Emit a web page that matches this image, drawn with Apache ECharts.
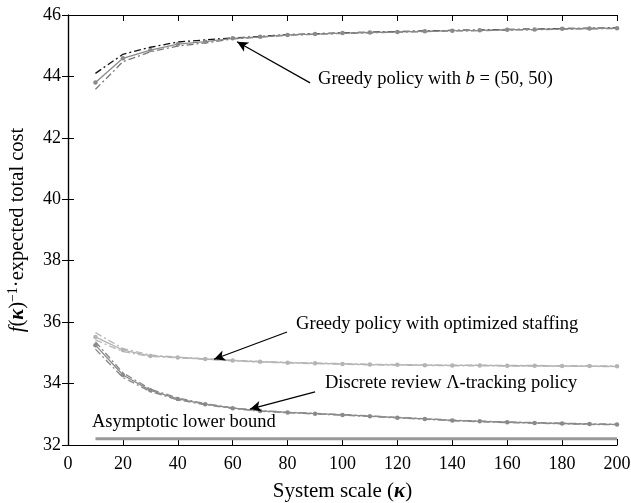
<!DOCTYPE html>
<html>
<head>
<meta charset="utf-8">
<script src="https://cdn.jsdelivr.net/npm/echarts@6/dist/echarts.min.js"></script>
<style>html,body{margin:0;padding:0;background:#fff}#c{width:631px;height:503px}</style>
</head>
<body>
<div id="c"></div>
<script>
// Data
const kappa = [10,20,30,40,50,60,70,80,90,100,110,120,130,140,150,160,170,180,190,200];
const greedyB = [43.8,44.59,44.86,45.05,45.13,45.24,45.29,45.35,45.38,45.41,45.43,45.45,45.47,45.49,45.5,45.52,45.53,45.55,45.56,45.57];
const greedyBUpper = [44.1,44.72,44.95,45.12,45.19,45.25,45.3,45.36,45.39,45.42,45.44,45.46,45.48,45.5,45.51,45.53,45.54,45.56,45.57,45.58];
const greedyBLower = [43.58,44.48,44.8,44.99,45.09,45.22,45.28,45.34,45.37,45.4,45.42,45.44,45.46,45.48,45.49,45.51,45.52,45.54,45.55,45.56];
const greedyOpt = [35.52,35.09,34.9,34.85,34.8,34.75,34.71,34.68,34.66,34.64,34.62,34.61,34.6,34.59,34.59,34.58,34.58,34.57,34.57,34.56];
const greedyOptUpper = [35.66,35.14,34.93,34.86,34.81,34.76,34.72,34.69,34.67,34.65,34.63,34.62,34.61,34.6,34.6,34.59,34.59,34.58,34.58,34.57];
const greedyOptLower = [35.42,35.04,34.88,34.84,34.79,34.74,34.7,34.67,34.65,34.63,34.61,34.6,34.59,34.58,34.58,34.57,34.57,34.56,34.56,34.55];
const tracking = [35.25,34.28,33.78,33.5,33.33,33.2,33.11,33.06,33.02,32.98,32.94,32.89,32.85,32.8,32.77,32.74,32.72,32.7,32.68,32.67];
const trackingUpper = [35.36,34.35,33.82,33.53,33.35,33.21,33.12,33.07,33.03,32.99,32.95,32.9,32.86,32.81,32.78,32.75,32.73,32.71,32.69,32.68];
const trackingLower = [35.12,34.2,33.74,33.47,33.31,33.19,33.1,33.05,33.01,32.97,32.93,32.88,32.84,32.79,32.76,32.73,32.71,32.69,32.67,32.66];
const lowerBoundX = [10,200];
const lowerBound = [32.2,32.2];
const yTicks = [32,34,36,38,40,42,44,46];
const xTicks = [0,20,40,60,80,100,120,140,160,180,200];

// Annotations: [text, textX, textY, arrowFromX, arrowFromY, arrowToX, arrowToY]
const notes = [
  ['Greedy policy with {i|b} = (50, 50)', 91.1, 43.92, 88.2, 43.79, 61.6, 45.13],
  ['Greedy policy with optimized staffing', 83.1, 35.93, 79.8, 35.68, 53.2, 34.79],
  ['Discrete review Λ-tracking policy', 93.6, 34.01, 90, 33.73, 66.3, 33.17],
  ['Asymptotic lower bound', 8.7, 32.74, null, null, null, null]
];

const FONT = '"Liberation Serif", "Times New Roman", serif';
const pair = (xs, ys) => xs.map((x, i) => [x, ys[i]]);
const DASHDOT = [7, 3, 2, 3];
const NOTE_SIZE = 18.5;

function lineSeries(ys, color, type, dots) {
  return {
    type: 'line', data: pair(kappa, ys), silent: true, animation: false,
    symbol: dots ? 'circle' : 'none', symbolSize: 4.5, showSymbol: !!dots,
    itemStyle: { color: color },
    lineStyle: { color: color, width: 1.3, type: type }
  };
}

const series = [
  lineSeries(greedyBUpper, '#111', DASHDOT, false),
  lineSeries(greedyBLower, '#777', DASHDOT, false),
  lineSeries(greedyB, '#8a8a8a', 'solid', true),
  lineSeries(greedyOptUpper, '#b8b8b8', DASHDOT, false),
  lineSeries(greedyOptLower, '#b8b8b8', DASHDOT, false),
  lineSeries(greedyOpt, '#b4b4b4', 'solid', true),
  lineSeries(trackingUpper, '#888', DASHDOT, false),
  lineSeries(trackingLower, '#888', DASHDOT, false),
  lineSeries(tracking, '#8a8a8a', 'solid', true),
  {
    type: 'line', data: pair(lowerBoundX, lowerBound), symbol: 'none', silent: true, animation: false,
    lineStyle: { color: '#999', width: 3 }
  },
  {
    type: 'line', data: [], silent: true, animation: false,
    markLine: {
      silent: true, animation: false, symbol: ['none', 'arrow'], symbolSize: [8, 11],
      label: { show: false },
      lineStyle: { color: '#000', width: 1.2, type: 'solid' },
      data: notes.filter(n => n[3] !== null).map(n => [{ coord: [n[3], n[4]] }, { coord: [n[5], n[6]] }])
    },
    markPoint: {
      silent: true, animation: false, symbol: 'circle', symbolSize: 0,
      data: notes.map(n => ({
        coord: [n[1], n[2]],
        label: {
          show: true, position: 'right', distance: 0, formatter: n[0],
          color: '#000', fontFamily: FONT, fontSize: NOTE_SIZE,
          rich: { i: { fontStyle: 'italic', fontFamily: FONT, fontSize: NOTE_SIZE, color: '#000' } }
        }
      }))
    }
  }
];

const axisCommon = {
  axisLine: { show: true, lineStyle: { color: '#000', width: 1.2 } },
  axisTick: { show: true, inside: true, length: 6, lineStyle: { color: '#000', width: 1 } },
  splitLine: { show: false }
};

const chart = echarts.init(document.getElementById('c'), null, { renderer: 'canvas' });
chart.setOption({
  backgroundColor: '#fff',
  animation: false,
  grid: { left: 68, right: 14, top: 15, bottom: 58, containLabel: false, outerBoundsMode: 'none' },
  xAxis: [
    Object.assign({}, axisCommon, {
      type: 'value', min: xTicks[0], max: xTicks[xTicks.length - 1], interval: 20, position: 'bottom',
      axisLabel: { color: '#000', fontFamily: FONT, fontSize: 18, margin: 10 },
      name: 'System scale ({k|κ})', nameLocation: 'middle', nameGap: 36,
      nameTextStyle: { color: '#000', fontFamily: FONT, fontSize: 21,
        rich: { k: { fontStyle: 'italic', fontWeight: 'bold', fontFamily: FONT, fontSize: 21 } } }
    }),
    Object.assign({}, axisCommon, {
      type: 'value', min: xTicks[0], max: xTicks[xTicks.length - 1], interval: 20, position: 'top',
      axisLabel: { show: false }
    })
  ],
  yAxis: [
    Object.assign({}, axisCommon, {
      type: 'value', min: yTicks[0], max: yTicks[yTicks.length - 1], interval: 2, position: 'left',
      axisLabel: { color: '#000', fontFamily: FONT, fontSize: 18, margin: 7 },
      name: '{i|f}({k|κ}){s|−1}·expected total cost', nameLocation: 'middle', nameGap: 39, nameRotate: 90,
      nameTextStyle: { color: '#000', fontFamily: FONT, fontSize: 20.5,
        rich: {
          i: { fontStyle: 'italic', fontFamily: FONT, fontSize: 20.5 },
          k: { fontStyle: 'italic', fontWeight: 'bold', fontFamily: FONT, fontSize: 20.5 },
          s: { fontFamily: FONT, fontSize: 14, verticalAlign: 'top', padding: [0, 0, 9, 0] }
        } }
    }),
    Object.assign({}, axisCommon, {
      type: 'value', min: yTicks[0], max: yTicks[yTicks.length - 1], interval: 2, position: 'right',
      axisLabel: { show: false }
    })
  ],
  series: series
});
</script>
</body>
</html>
